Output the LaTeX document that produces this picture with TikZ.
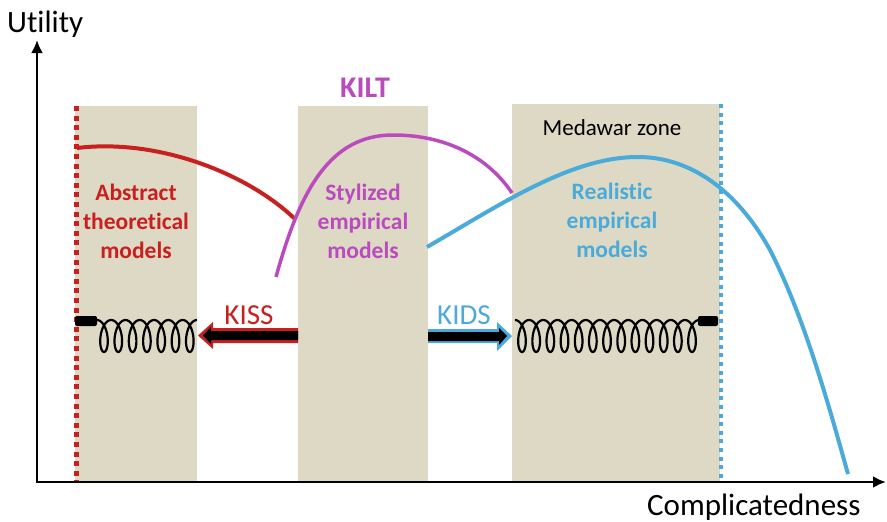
\documentclass[tikz,border=0pt]{standalone}
\usepackage{fontspec}
\setmainfont[Ligatures=NoCommon]{Carlito}
\usetikzlibrary{arrows.meta}
\definecolor{zonetan}{HTML}{DDD9C4}
\definecolor{kred}{HTML}{C8201F}
\definecolor{kpurple}{HTML}{B94BBE}
\definecolor{kblue}{HTML}{4AABDB}
\begin{document}
\begin{tikzpicture}[x=1pt,y=-1pt,
  zone/.style={fill=zonetan},
  axisline/.style={line width=2.6pt, line join=miter},
  curve/.style={line width=4pt},
  wire/.style={line width=2.2pt, line join=round},
  springblock/.style={fill=black, rounded corners=2pt},
  boxlabel/.style={anchor=base, align=center, inner sep=0pt, font=\bfseries\fontsize{23.5}{29}\selectfont},
  plainlabel/.style={inner sep=0pt, font=\fontsize{31}{31}\selectfont},
  arrowlabel/.style={anchor=base, inner sep=0pt, font=\fontsize{29}{29}\selectfont}]
\useasboundingbox (0,0) rectangle (887,522);
% zones
\fill[zone] (75,106) rectangle (197,481);
\fill[zone] (298,106) rectangle (428,482);
\fill[zone] (512,104) rectangle (720,482);
% dotted limits
\draw[kred, line width=5pt, dash pattern=on 5pt off 4.6pt] (76,106) -- (76,482);
\draw[kblue, line width=4pt, dash pattern=on 4pt off 4.6pt] (721,104) -- (721,482);
% axes
\draw[axisline, {Latex[length=13pt,width=12pt]}-{Latex[length=13pt,width=12pt]}] (37,40) -- (37,482) -- (886,482);
% curves
\draw[curve, kred] (77,148) .. controls (160,138) and (250,175) .. (296,220);
\draw[curve, kpurple, line width=3.5pt] (276,277) .. controls (300,190) and (330,135) .. (393,135) .. controls (450,135) and (490,160) .. (512,193);
\draw[curve, kblue] (427,247) .. controls (500,205) and (570,157) .. (638,157) .. controls (690,157) and (737,190) .. (770,250) .. controls (805,318) and (830,410) .. (848,474);
% springs
\fill[springblock] (75,316) rectangle (97,326);
\draw[wire] plot[domain=-180:2340, samples=253, variable=\u] ({104 + \u/360*14.3 - 7*sin(\u)}, {336 + 16*cos(\u)});
\fill[springblock] (698,316) rectangle (718,326);
\draw[wire] plot[domain=-180:4500, samples=469, variable=\u] ({522 + \u/360*14.17 - 7*sin(\u)}, {336 + 16*cos(\u)}) -- (699,321);
% KISS arrow
\fill[kred] (298,328) -- (213,328) -- (213,322) -- (198,335.5) -- (213,349) -- (213,343) -- (298,343) -- cycle;
\fill[black] (298,331) -- (211,331) -- (211,327) -- (203,335.5) -- (211,344) -- (211,340) -- (298,340) -- cycle;
% KIDS arrow
\fill[kblue] (428,329) -- (497,329) -- (497,322) -- (512,336) -- (497,351) -- (497,343) -- (428,343) -- cycle;
\fill[black] (428,332) -- (499,332) -- (499,328) -- (507,336) -- (499,345) -- (499,341) -- (428,341) -- cycle;
% texts
\node[plainlabel, anchor=base west] (ylab) at (7,32) {Utility};
\node[plainlabel, anchor=base west] (xlab) at (647,515) {Complicatedness};
\node[anchor=base, inner sep=0pt, kpurple, font=\bfseries\fontsize{30}{30}\selectfont] (kilt) at (365,97) {KILT};
\node[boxlabel, kred] (abstract) at (136,258) {Abstract\\theoretical\\models};
\node[boxlabel, kpurple] (stylized) at (363,258) {Stylized\\empirical\\models};
\node[boxlabel, kblue] (realistic) at (612,257) {Realistic\\empirical\\models};
\node[anchor=base, inner sep=0pt, font=\fontsize{23}{23}\selectfont] (medawar) at (612,135) {Medawar zone};
\node[arrowlabel, kred] (kiss) at (249,324) {KISS};
\node[arrowlabel, kblue] (kids) at (464,324) {KIDS};
\end{tikzpicture}
\end{document}
